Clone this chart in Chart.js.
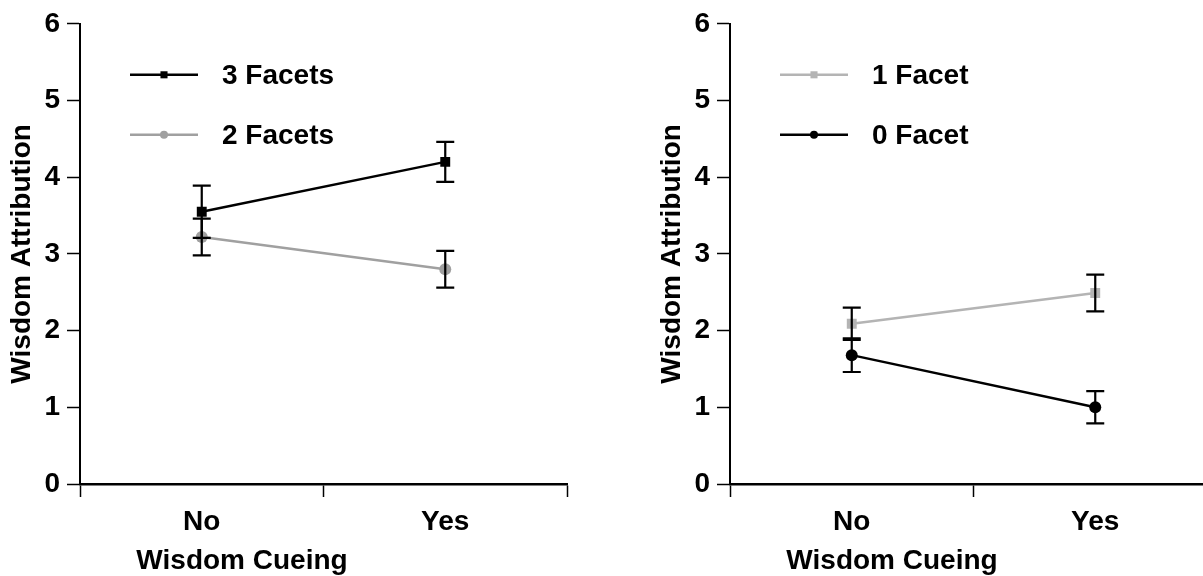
<!DOCTYPE html>
<html>
<head>
<meta charset="utf-8">
<script src="https://cdn.jsdelivr.net/npm/chart.js@4.4.1/dist/chart.umd.min.js"></script>
<style>
body { margin: 0; background: #fff; overflow: hidden; }
#wrap { position: relative; width: 1203px; height: 576px; overflow: hidden; }
.panel { position: absolute; top: 0; width: 650px; height: 576px; }
</style>
</head>
<body>
<div id="wrap">
	<div class="panel" style="left:0"><canvas id="leftChart" width="650" height="576"></canvas></div>
	<div class="panel" style="left:650px"><canvas id="rightChart" width="650" height="576"></canvas></div>
</div>
<script>
// values (means and error bar half-lengths)
const cueing = ["No", "Yes"];
const threeFacets = [3.55, 4.20];
const threeFacetsErr = [0.34, 0.26];
const twoFacets = [3.22, 2.80];
const twoFacetsErr = [0.24, 0.24];
const oneFacet = [2.09, 2.49];
const oneFacetErr = [0.21, 0.24];
const zeroFacet = [1.68, 1.00];
const zeroFacetErr = [0.22, 0.21];
const xTitle = "Wisdom Cueing";
const yTitle = "Wisdom Attribution";

const FONT = "'Liberation Sans', Arial, Helvetica, sans-serif";

const toPoints = (vals) => vals.map((v, i) => ({ x: i + 0.5, y: v }));

// error bars, always black, drawn over the lines
const errorBars = {
	id: 'errorBars',
	afterDatasetsDraw(chart) {
		const { ctx, scales: { x, y } } = chart;
		ctx.save();
		ctx.strokeStyle = "#000";
		ctx.lineWidth = 2.2;
		chart.data.datasets.forEach(ds => {
			ds.data.forEach((p, i) => {
				const e = ds.errors[i];
				const px = x.getPixelForValue(p.x);
				const top = y.getPixelForValue(p.y + e);
				const bot = y.getPixelForValue(p.y - e);
				ctx.beginPath();
				ctx.moveTo(px, top); ctx.lineTo(px, bot);
				ctx.moveTo(px - 9, top); ctx.lineTo(px + 9, top);
				ctx.moveTo(px - 9, bot); ctx.lineTo(px + 9, bot);
				ctx.stroke();
			});
		});
		ctx.restore();
	}
};

// legend inside the plot: line + small marker + bold label,
// plus the x title which sits left of the axis centre in the original
const lineLegend = {
	id: 'lineLegend',
	afterDraw(chart) {
		const { ctx, chartArea } = chart;
		ctx.save();
		ctx.font = "bold 28px " + FONT;
		chart.data.datasets.forEach((ds, i) => {
			const y = chartArea.top + 51 + i * 60;
			const x0 = chartArea.left + 50;
			const x1 = chartArea.left + 118;
			ctx.strokeStyle = ds.borderColor;
			ctx.lineWidth = 2.5;
			ctx.beginPath();
			ctx.moveTo(x0, y); ctx.lineTo(x1, y);
			ctx.stroke();
			ctx.fillStyle = ds.pointBackgroundColor;
			ctx.strokeStyle = ds.pointBackgroundColor;
			Chart.helpers.drawPoint(ctx, {
				pointStyle: ds.pointStyle,
				radius: ds.pointStyle === 'rect' ? 5 : 4,
				rotation: 0,
				borderWidth: 0
			}, (x0 + x1) / 2, y);
			ctx.fillStyle = "#000";
			ctx.textBaseline = "middle";
			ctx.textAlign = "left";
			ctx.fillText(ds.label, chartArea.left + 142, y + 1);
		});
		ctx.textAlign = "center";
		ctx.textBaseline = "middle";
		ctx.fillText(xTitle, chartArea.left + 162, 561);
		ctx.restore();
	}
};

function makeSeries(label, vals, errs, color, style) {
	return {
		label: label,
		data: toPoints(vals),
		errors: errs,
		borderColor: color,
		backgroundColor: color,
		pointBackgroundColor: color,
		pointBorderColor: color,
		pointBorderWidth: 0,
		pointStyle: style,
		pointRadius: style === 'rect' ? 7 : 6,
		borderWidth: 2.5,
		tension: 0
	};
}

function makeChart(id, datasets) {
	const tickFont = { family: FONT, size: 28, weight: 'bold' };
	return new Chart(document.getElementById(id), {
		type: 'line',
		data: { datasets: datasets },
		plugins: [errorBars, lineLegend],
		options: {
			responsive: false,
			animation: false,
			layout: { padding: { top: 22, right: 83, left: 0, bottom: 0 } },
			plugins: {
				legend: { display: false },
				tooltip: { enabled: false }
			},
			scales: {
				x: {
					type: 'linear',
					min: 0,
					max: 2,
					afterBuildTicks: (scale) => {
						scale.ticks = [0, 0.5, 1, 1.5, 2].map(v => ({ value: v }));
					},
					afterFit: (scale) => { scale.height = 92; },
					ticks: {
						autoSkip: false,
						maxRotation: 0,
						color: "#000",
						font: tickFont,
						padding: 8,
						callback: (v) => (v % 1 === 0.5 ? cueing[Math.floor(v)] : "")
					},
					grid: {
						drawOnChartArea: false,
						tickLength: 13,
						tickWidth: 1.5,
						tickColor: (c) => (c.tick && c.tick.value % 1 === 0 ? "#000" : "rgba(0,0,0,0)")
					},
					border: { display: true, color: "#000", width: 2.5 },
					title: { display: false }
				},
				y: {
					min: 0,
					max: 6,
					afterFit: (scale) => { scale.width = 80; },
					ticks: {
						stepSize: 1,
						color: "#000",
						font: tickFont,
						padding: 7
					},
					grid: {
						drawOnChartArea: false,
						tickLength: 13,
						tickWidth: 1.5,
						tickColor: "#000"
					},
					border: { display: true, color: "#000", width: 2 },
					title: {
						display: true,
						text: yTitle,
						color: "#000",
						font: tickFont,
						padding: { top: 5, bottom: 0 }
					}
				}
			}
		}
	});
}

makeChart('leftChart', [
	makeSeries("3 Facets", threeFacets, threeFacetsErr, "#000000", 'rect'),
	makeSeries("2 Facets", twoFacets, twoFacetsErr, "#a0a0a0", 'circle')
]);

makeChart('rightChart', [
	makeSeries("1 Facet", oneFacet, oneFacetErr, "#b4b4b4", 'rect'),
	makeSeries("0 Facet", zeroFacet, zeroFacetErr, "#000000", 'circle')
]);
</script>
</body>
</html>
